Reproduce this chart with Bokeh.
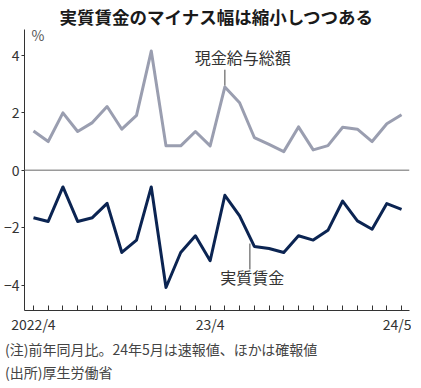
from bokeh.plotting import figure
from bokeh.models import Range1d, FixedTicker, Span, Label, Div
from bokeh.layouts import column
from bokeh.embed import file_html
from bokeh.resources import INLINE

FONT = "Noto Sans CJK JP"

months = ["2022/4", "22/5", "22/6", "22/7", "22/8", "22/9", "22/10", "22/11", "22/12",
          "23/1", "23/2", "23/3", "23/4", "23/5", "23/6", "23/7", "23/8", "23/9",
          "23/10", "23/11", "23/12", "24/1", "24/2", "24/3", "24/4", "24/5"]
cash_total = [1.37, 1.0, 2.0, 1.35, 1.66, 2.22, 1.43, 1.91, 4.15, 0.85, 0.85, 1.35, 0.85,
              2.9, 2.35, 1.14, 0.9, 0.65, 1.51, 0.71, 0.86, 1.5, 1.43, 1.0, 1.62, 1.93]
real_wage = [-1.65, -1.78, -0.58, -1.78, -1.65, -1.15, -2.86, -2.43, -0.58, -4.08, -2.86,
             -2.28, -3.15, -0.87, -1.59, -2.65, -2.72, -2.86, -2.28, -2.43, -2.09, -1.07,
             -1.76, -2.05, -1.16, -1.36]
x_labels = {0: "2022/4", 12: "23/4", 25: "24/5"}
y_ticks = [-4, -2, 0, 2, 4]

title_text = "実質賃金のマイナス幅は縮小しつつある"
note1 = "(注)前年同月比。24年5月は速報値、ほかは確報値"
note2 = "(出所)厚生労働省"

xs = list(range(len(months)))

p = figure(frame_width=385, frame_height=281, output_backend="svg", toolbar_location=None,
           x_range=Range1d(-0.61, 25.54), y_range=Range1d(-4.88, 4.9),
           min_border_left=18, min_border_right=2, min_border_top=24, min_border_bottom=28)
p.outline_line_color = None
p.xgrid.visible = False
p.ygrid.visible = False

p.title.text = title_text
p.title.align = "center"
p.title.text_font = FONT
p.title.text_font_size = "17.5px"
p.title.text_font_style = "bold"
p.title.text_color = "#1a1a1a"
p.title.standoff = 2

ax = p.xaxis[0]
ax.ticker = FixedTicker(ticks=xs)
ax.major_label_overrides = {i: x_labels.get(i, "") for i in xs}
ax.major_tick_in = 5
ax.major_tick_out = 0
ax.minor_tick_line_color = None
ax.axis_line_color = "#333333"
ax.major_tick_line_color = "#333333"
ax.major_label_text_font = FONT
ax.major_label_text_font_size = "14px"
ax.major_label_text_color = "#333333"
ax.major_label_standoff = 3

ay = p.yaxis[0]
ay.ticker = FixedTicker(ticks=y_ticks)
ay.major_tick_in = 0
ay.major_tick_out = 3
ay.minor_tick_line_color = None
ay.axis_line_color = "#333333"
ay.major_tick_line_color = "#333333"
ay.major_label_text_font = FONT
ay.major_label_text_font_size = "14px"
ay.major_label_text_color = "#333333"
ay.major_label_standoff = 2

p.add_layout(Span(location=0, dimension="width", line_color="#9a9a9a", line_width=1.5))

p.line(xs, cash_total, line_color="#9a9eb0", line_width=3, line_join="round")
p.line(xs, real_wage, line_color="#0b2452", line_width=3, line_join="round")

# leader lines and series labels
p.segment(x0=[13, 14.7], y0=[2.95, -2.55], x1=[13, 14.7], y1=[3.5, -3.45],
          line_color="#444444", line_width=1)
p.add_layout(Label(x=10.95, y=3.95, text="現金給与総額", text_font=FONT,
                   text_font_size="16px", text_color="#333333", text_baseline="middle"))
p.add_layout(Label(x=12.68, y=-3.7, text="実質賃金", text_font=FONT,
                   text_font_size="16px", text_color="#333333", text_baseline="middle"))
p.add_layout(Label(x=-0.14, y=4.72, text="%", text_font=FONT,
                   text_font_size="14px", text_color="#555555", text_baseline="middle"))

notes = Div(text=f"<div>{note1}</div><div>{note2}</div>", width=405, height=39,
            styles={"font-family": FONT, "font-size": "14px", "line-height": "23px",
                    "color": "#444444", "padding-left": "5px", "margin": "0",
                    "white-space": "nowrap"})

layout = column(p, notes, spacing=0)
open("out.html", "w").write(file_html(layout, INLINE))
